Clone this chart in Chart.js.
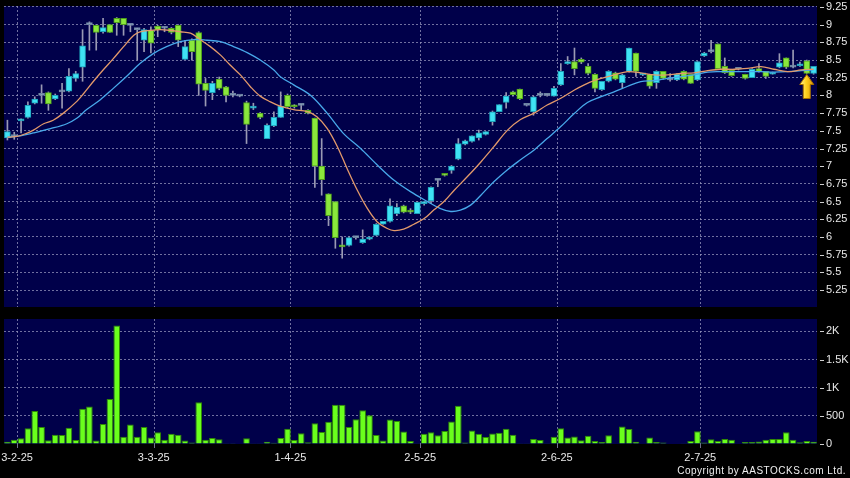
<!DOCTYPE html>
<html>
<head>
<meta charset="utf-8">
<script src="https://cdn.jsdelivr.net/npm/chart.js@4.4.1/dist/chart.umd.min.js"></script>
<style>
  html, body { margin: 0; padding: 0; background: #000; }
  #wrap { position: relative; width: 850px; height: 478px; overflow: hidden; background: #000; }
  #priceChart { position: absolute; left: 0; top: 0; }
  #volumeChart { position: absolute; left: 0; top: 312px; }
  #copy { position: absolute; right: 4px; top: 465px; color: #f0f0f0; font: 10px "Liberation Sans", Arial, sans-serif; letter-spacing: 0.5px; }
</style>
</head>
<body>
<div id="wrap">
  <canvas id="priceChart" width="850" height="312"></canvas>
  <canvas id="volumeChart" width="850" height="166"></canvas>
  <div id="copy">Copyright by AASTOCKS.com Ltd.</div>
</div>
<script>
// daily candles (index 0 = first bar on the left)
const openPrices = [7.40, 7.42, 7.64, 7.69, 7.89, 8.00, 8.04, 7.95, 8.05, 8.06,
  8.24, 8.40, 9.00, 8.99, 8.90, 9.00, 9.09, 9.09, 8.99, 8.93,
  8.78, 8.92, 8.98, 8.95, 8.95, 8.99, 8.51, 8.78, 8.89, 8.17,
  8.04, 8.23, 8.12, 8.00, 7.99, 7.90, 7.82, 7.75, 7.39, 7.57,
  7.69, 8.00, 7.86, 7.86, 7.79, 7.68, 7.00, 6.61, 6.50, 5.88,
  5.88, 5.99, 5.92, 5.97, 6.02, 6.18, 6.22, 6.33, 6.44, 6.38,
  6.33, 6.47, 6.51, 6.80, 6.89, 6.94, 7.10, 7.31, 7.35, 7.40,
  7.45, 7.63, 7.77, 7.90, 8.05, 8.09, 7.86, 7.77, 8.00, 8.00,
  7.99, 8.15, 8.45, 8.48, 8.51, 8.41, 8.30, 8.08, 8.20, 8.32,
  8.18, 8.34, 8.60, 8.29, 8.30, 8.18, 8.34, 8.22, 8.22, 8.34,
  8.30, 8.22, 8.56, 8.62, 8.73, 8.41, 8.36, 8.37, 8.30, 8.25,
  8.38, 8.34, 8.30, 8.40, 8.53, 8.40, 8.42, 8.49, 8.31];
const highPrices = [7.65, 7.48, 7.67, 7.91, 7.98, 8.15, 8.05, 8.02, 8.17, 8.38,
  8.34, 8.93, 9.04, 9.00, 9.09, 9.00, 9.10, 9.09, 9.00, 8.95,
  8.95, 8.97, 8.99, 8.97, 8.96, 9.00, 8.78, 8.80, 8.90, 8.24,
  8.20, 8.26, 8.13, 8.06, 8.00, 7.92, 7.89, 7.76, 7.60, 7.77,
  8.05, 8.02, 7.87, 7.87, 7.80, 7.68, 7.39, 6.61, 6.50, 6.00,
  6.00, 6.00, 6.10, 6.00, 6.19, 6.22, 6.54, 6.47, 6.45, 6.40,
  6.50, 6.50, 6.71, 6.81, 6.89, 7.01, 7.39, 7.37, 7.43, 7.51,
  7.49, 7.78, 7.87, 8.04, 8.06, 8.09, 7.86, 7.99, 8.05, 8.01,
  8.13, 8.45, 8.55, 8.67, 8.53, 8.45, 8.31, 8.20, 8.35, 8.33,
  8.30, 8.67, 8.60, 8.31, 8.30, 8.35, 8.34, 8.31, 8.31, 8.35,
  8.30, 8.48, 8.61, 8.78, 8.73, 8.53, 8.37, 8.37, 8.30, 8.38,
  8.45, 8.34, 8.33, 8.59, 8.53, 8.64, 8.47, 8.50, 8.41];
const lowPrices = [7.37, 7.38, 7.47, 7.68, 7.88, 7.89, 7.79, 7.94, 7.82, 8.05,
  8.20, 8.20, 8.64, 8.64, 8.88, 8.89, 8.85, 8.85, 8.90, 8.50,
  8.62, 8.60, 8.83, 8.90, 8.87, 8.69, 8.51, 8.50, 8.00, 7.85,
  7.94, 8.08, 7.91, 7.98, 7.98, 7.32, 7.80, 7.67, 7.39, 7.56,
  7.69, 7.83, 7.82, 7.80, 7.74, 6.70, 6.59, 6.16, 5.84, 5.70,
  5.87, 5.97, 5.91, 5.96, 6.02, 6.18, 6.21, 6.30, 6.34, 6.33,
  6.33, 6.45, 6.47, 6.71, 6.86, 6.90, 7.09, 7.30, 7.34, 7.37,
  7.44, 7.58, 7.77, 7.82, 7.99, 7.94, 7.85, 7.72, 7.98, 7.99,
  7.99, 8.14, 8.44, 8.29, 8.45, 8.29, 8.05, 8.07, 8.19, 8.22,
  8.11, 8.33, 8.27, 8.28, 8.10, 8.10, 8.23, 8.20, 8.21, 8.22,
  8.17, 8.21, 8.55, 8.60, 8.38, 8.31, 8.27, 8.36, 8.23, 8.25,
  8.33, 8.24, 8.30, 8.39, 8.38, 8.39, 8.41, 8.31, 8.30];
const closePrices = [7.49, 7.42, 7.66, 7.86, 7.95, 8.00, 7.88, 8.00, 8.05, 8.27,
  8.31, 8.70, 9.00, 8.89, 8.96, 8.89, 9.03, 9.00, 8.99, 8.93,
  8.93, 8.74, 8.93, 8.95, 8.89, 8.78, 8.69, 8.62, 8.16, 8.07,
  8.17, 8.10, 8.00, 8.00, 7.99, 7.59, 7.83, 7.69, 7.58, 7.69,
  7.85, 7.84, 7.84, 7.86, 7.75, 7.00, 6.81, 6.30, 5.99, 5.86,
  5.99, 5.99, 5.97, 5.99, 6.18, 6.22, 6.44, 6.42, 6.35, 6.35,
  6.49, 6.49, 6.70, 6.80, 6.87, 7.00, 7.32, 7.36, 7.43, 7.47,
  7.49, 7.77, 7.87, 7.99, 8.01, 7.95, 7.86, 7.98, 8.00, 8.00,
  8.10, 8.34, 8.48, 8.38, 8.47, 8.31, 8.10, 8.20, 8.34, 8.23,
  8.29, 8.67, 8.34, 8.31, 8.13, 8.34, 8.24, 8.22, 8.30, 8.23,
  8.17, 8.48, 8.60, 8.62, 8.38, 8.32, 8.28, 8.37, 8.24, 8.37,
  8.34, 8.27, 8.32, 8.46, 8.40, 8.40, 8.44, 8.31, 8.41];
const volumes = [40, 75, 100, 280, 585, 300, 65, 165, 160, 290,
  70, 625, 665, 60, 355, 800, 2105, 130, 345, 130,
  300, 115, 210, 75, 180, 165, 60, 25, 740, 75,
  105, 85, 5, 15, 0, 100, 5, 5, 40, 20,
  105, 270, 70, 190, 30, 370, 215, 395, 695, 695,
  300, 440, 600, 510, 160, 60, 435, 410, 220, 55,
  5, 180, 210, 155, 230, 400, 680, 25, 240, 180,
  125, 185, 200, 270, 165, 5, 5, 90, 70, 5,
  130, 280, 115, 135, 65, 145, 55, 35, 155, 0,
  310, 265, 40, 0, 115, 35, 25, 10, 10, 5,
  55, 225, 25, 85, 55, 90, 75, 0, 35, 35,
  45, 75, 90, 90, 210, 75, 30, 55, 40];

// moving averages as drawn (bar position, price)
const maFastIdx = [0, 1.4, 2.8, 3.8, 5.3, 6.7, 8.2, 10.2, 11.1, 12.6,
  14.1, 15.5, 17, 18.5, 19.4, 20.9, 22.4, 23.8, 25.3, 26.8,
  28.2, 29.7, 31.2, 32.6, 34.1, 35.6, 37, 38.5, 39.9, 41.9,
  43.9, 45.3, 46.8, 48.3, 49.7, 51.2, 52.7, 54.1, 55.6, 56.6,
  58, 59.5, 61, 62.4, 63.9, 65.4, 67.3, 69.3, 71.2, 73.2,
  75.1, 77.1, 79, 81, 83, 84.9, 86.9, 88.8, 90.8, 92.7,
  94.7, 96.6, 98.6, 100.5, 102.5, 104.4, 106.4, 108.3, 110.3, 112.2,
  114.2, 116.2, 118];
const maFastVal = [7.41, 7.42, 7.465, 7.51, 7.60, 7.65, 7.75, 7.92, 8.02, 8.20,
  8.37, 8.52, 8.69, 8.85, 8.90, 8.92, 8.93, 8.92, 8.90, 8.88,
  8.79, 8.69, 8.57, 8.43, 8.29, 8.12, 7.99, 7.91, 7.85, 7.80,
  7.77, 7.70, 7.535, 7.276, 6.97, 6.663, 6.40, 6.216, 6.12, 6.09,
  6.11, 6.18, 6.26, 6.38, 6.50, 6.66, 6.85, 7.06, 7.276, 7.51,
  7.66, 7.75, 7.865, 7.96, 8.077, 8.171, 8.24, 8.29, 8.336, 8.32,
  8.29, 8.29, 8.31, 8.32, 8.35, 8.37, 8.37, 8.383, 8.407, 8.37,
  8.336, 8.36, 8.37];
const maSlowIdx = [0, 1.9, 3.8, 6.3, 8.7, 10.2, 11.6, 13.6, 15.5, 17.5,
  19.4, 21.4, 23.3, 25.3, 27.3, 29.2, 31.2, 33.1, 35.1, 37,
  39, 40, 41.9, 44.4, 46.8, 49.2, 51.7, 54.1, 56.6, 59,
  61.5, 63.4, 64.9, 66.3, 67.8, 69.3, 71.2, 73.2, 75.1, 77.1,
  79, 81, 83, 84.9, 86.9, 88.8, 90.8, 92.7, 94.7, 96.6,
  98.6, 100.5, 102.5, 104.4, 106.4, 108.3, 110.3, 112.2, 114.2, 116.2,
  118];
const maSlowVal = [7.41, 7.43, 7.47, 7.53, 7.60, 7.68, 7.80, 7.94, 8.10, 8.275,
  8.45, 8.595, 8.69, 8.76, 8.79, 8.78, 8.76, 8.69, 8.605, 8.50,
  8.36, 8.26, 8.15, 8.00, 7.75, 7.46, 7.25, 7.02, 6.80, 6.64,
  6.50, 6.40, 6.36, 6.38, 6.45, 6.59, 6.78, 6.95, 7.09, 7.23,
  7.39, 7.56, 7.747, 7.90, 7.983, 8.05, 8.13, 8.195, 8.21, 8.24,
  8.265, 8.29, 8.33, 8.336, 8.336, 8.336, 8.336, 8.33, 8.336, 8.35,
  8.36];

const priceTicks = [5.25, 5.5, 5.75, 6, 6.25, 6.5, 6.75, 7, 7.25, 7.5, 7.75, 8, 8.25, 8.5, 8.75, 9, 9.25];
const volumeTicks = [0, 500, 1000, 1500, 2000];
const labelIndex = [2, 22, 42, 61, 81, 102];
const labelText = ["3-2-25", "3-3-25", "1-4-25", "2-5-25", "2-6-25", "2-7-25"];
const arrowIndex = 117;

const dates = openPrices.map((o, i) => {
  const k = labelIndex.indexOf(i);
  return k >= 0 ? labelText[k] : "";
});

const PLOT_BG = "#00004a";
const GRID = "rgba(150,150,190,0.75)";
const TEXT = "#e8e8e8";
const FONT = { family: "'Liberation Sans', Arial, sans-serif", size: 11 };

const candleFill = openPrices.map((o, i) =>
  closePrices[i] > o ? "#3fe2f4" : closePrices[i] < o ? "#8ae83c" : "#8ea6c2");
const candleEdge = openPrices.map((o, i) =>
  closePrices[i] > o ? "#1c9fb8" : closePrices[i] < o ? "#4e9f1c" : "#6d83a0");

const gridAtLabels = (ctx) => (dates[ctx.index] ? GRID : "transparent");

const plotBackground = {
  id: "plotBackground",
  beforeDraw(chart) {
    const { ctx, chartArea } = chart;
    ctx.save();
    ctx.fillStyle = PLOT_BG;
    ctx.fillRect(chartArea.left, chartArea.top, chartArea.right - chartArea.left, chartArea.bottom - chartArea.top);
    ctx.restore();
  },
};

// the little "-" marks in front of the right-hand labels
const tickDash = {
  id: "tickDash",
  afterDraw(chart) {
    const { ctx, chartArea } = chart;
    const y = chart.scales.y;
    ctx.save();
    ctx.strokeStyle = "#cfcfcf";
    ctx.lineWidth = 1;
    y.ticks.forEach((t) => {
      const py = Math.round(y.getPixelForValue(t.value)) + 0.5;
      ctx.beginPath();
      ctx.moveTo(chartArea.right + 3, py);
      ctx.lineTo(chartArea.right + 7, py);
      ctx.stroke();
    });
    ctx.restore();
  },
};

// yellow arrow under the latest candle
const arrowMark = {
  id: "arrowMark",
  afterDatasetsDraw(chart) {
    const { ctx } = chart;
    const x = chart.scales.x.getPixelForValue(arrowIndex);
    const top = chart.scales.y.getPixelForValue(lowPrices[arrowIndex]) + 1;
    const g = ctx.createLinearGradient(x - 7, 0, x + 7, 0);
    g.addColorStop(0, "#fff59a");
    g.addColorStop(0.45, "#ffd21e");
    g.addColorStop(1, "#d99400");
    ctx.save();
    ctx.beginPath();
    ctx.moveTo(x, top);
    ctx.lineTo(x + 7, top + 10);
    ctx.lineTo(x + 3.5, top + 10);
    ctx.lineTo(x + 3.5, top + 24);
    ctx.lineTo(x - 3.5, top + 24);
    ctx.lineTo(x - 3.5, top + 10);
    ctx.lineTo(x - 7, top + 10);
    ctx.closePath();
    ctx.fillStyle = g;
    ctx.fill();
    ctx.strokeStyle = "#a87000";
    ctx.lineWidth = 1;
    ctx.stroke();
    ctx.restore();
  },
};

const priceChart = new Chart(document.getElementById("priceChart"), {
  type: "bar",
  data: {
    labels: dates,
    datasets: [
      {
        type: "line",
        label: "MA fast",
        data: maFastIdx.map((x, i) => ({ x: x, y: maFastVal[i] })),
        xAxisID: "xMa",
        borderColor: "#e3996b",
        borderWidth: 1.3,
        pointRadius: 0,
        tension: 0.35,
        order: 0,
      },
      {
        type: "line",
        label: "MA slow",
        data: maSlowIdx.map((x, i) => ({ x: x, y: maSlowVal[i] })),
        xAxisID: "xMa",
        borderColor: "#48a8ea",
        borderWidth: 1.3,
        pointRadius: 0,
        tension: 0.35,
        order: 0,
      },
      {
        label: "wick",
        data: lowPrices.map((l, i) => [l, highPrices[i]]),
        backgroundColor: "#9a9ab4",
        barThickness: 1,
        grouped: false,
        order: 2,
      },
      {
        label: "body",
        data: openPrices.map((o, i) => [o, closePrices[i]]),
        backgroundColor: candleFill,
        borderColor: candleEdge,
        borderWidth: 1,
        borderSkipped: false,
        barThickness: 6,
        minBarLength: 2,
        grouped: false,
        order: 1,
      },
    ],
  },
  options: {
    responsive: false,
    animation: false,
    layout: { padding: { left: 4, top: 6, right: 0, bottom: 5 } },
    plugins: { legend: { display: false }, tooltip: { enabled: false } },
    scales: {
      x: {
        type: "category",
        offset: true,
        ticks: { display: false },
        grid: { offset: true, color: gridAtLabels, drawTicks: false },
        border: { display: false, dash: [2, 2] },
        afterFit: (s) => { s.height = 0; s.paddingLeft = 0; s.paddingRight = 0; },
      },
      xMa: {
        type: "linear",
        display: false,
        offset: false,
        grid: { offset: false },
        min: -0.5,
        max: 118.5,
      },
      y: {
        position: "right",
        min: 5.01,
        max: 9.264,
        afterBuildTicks: (s) => { s.ticks = priceTicks.map((v) => ({ value: v })); },
        afterFit: (s) => { s.width = 33; s.paddingTop = 0; s.paddingBottom = 0; },
        ticks: { color: TEXT, font: FONT, padding: 9, callback: (v) => String(v) },
        grid: { color: GRID, drawTicks: false },
        border: { display: false, dash: [2, 2] },
      },
    },
  },
  plugins: [plotBackground, tickDash, arrowMark],
});

const volumeChart = new Chart(document.getElementById("volumeChart"), {
  type: "bar",
  data: {
    labels: dates,
    datasets: [
      {
        label: "Volume",
        data: volumes,
        backgroundColor: "#6aff1c",
        borderColor: "#2f8a05",
        borderWidth: 1,
        borderSkipped: "bottom",
        barPercentage: 0.97,
        categoryPercentage: 1,
      },
    ],
  },
  options: {
    responsive: false,
    animation: false,
    layout: { padding: { left: 4, top: 7, right: 0, bottom: 0 } },
    plugins: { legend: { display: false }, tooltip: { enabled: false } },
    scales: {
      x: {
        type: "category",
        offset: true,
        ticks: { color: TEXT, font: FONT, autoSkip: false, maxRotation: 0, padding: 3, labelOffset: -4 },
        grid: { offset: true, color: gridAtLabels, tickColor: gridAtLabels, tickLength: 4 },
        border: { display: false, dash: [2, 2] },
        afterFit: (s) => { s.height = 34; s.paddingLeft = 0; s.paddingRight = 0; },
      },
      y: {
        position: "right",
        min: 0,
        max: 2220,
        afterBuildTicks: (s) => { s.ticks = volumeTicks.map((v) => ({ value: v })); },
        afterFit: (s) => { s.width = 33; s.paddingTop = 0; s.paddingBottom = 0; },
        ticks: {
          color: TEXT,
          font: FONT,
          padding: 9,
          callback: (v) => (v >= 1000 ? v / 1000 + "K" : String(v)),
        },
        grid: { color: (ctx) => (ctx.tick && ctx.tick.value === 0 ? "transparent" : GRID), drawTicks: false },
        border: { display: false, dash: [2, 2] },
      },
    },
  },
  plugins: [plotBackground, tickDash],
});
</script>
</body>
</html>
